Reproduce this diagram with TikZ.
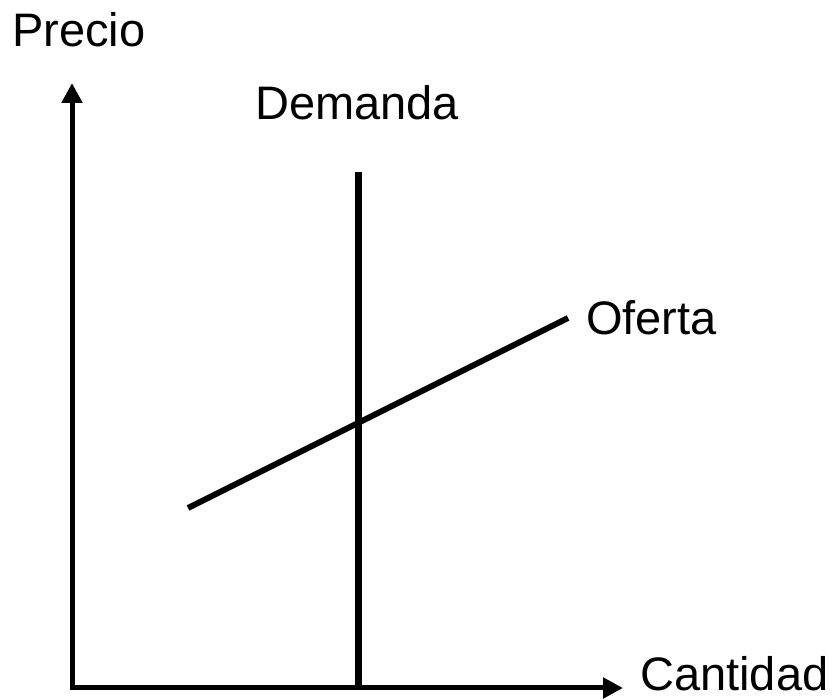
\documentclass[tikz,border=0pt]{standalone}
\usepackage{fontspec}
\setmainfont{Liberation Sans}
\usetikzlibrary{arrows.meta,calc}

\begin{document}
\begin{tikzpicture}[x=1pt, y=1pt, axis/.style={line width=5pt, -{Triangle[length=20pt, width=20pt]}}, curve/.style={line width=6pt}, label/.style={font=\fontsize{47}{50}\selectfont, inner sep=0pt}]

  \useasboundingbox (0,0) rectangle (835,700);

  % Axes
  \coordinate (O) at (72,12);
  \coordinate (Ytip) at (72,617);
  \coordinate (Xtip) at (623,12);
  \draw[axis] ($(O)+(0,-2.5)$) -- (Ytip);
  \draw[axis] ($(O)+(-2.5,0)$) -- (Xtip);

  % Labels
  \node[label, anchor=base west] (precio) at (12,653) {Precio};
  \node[label, anchor=base west] (cantidad) at (640,9) {Cantidad};
  \node[label, anchor=base] (demanda) at (357,580) {Demanda};
  \node[label, anchor=base west] (oferta) at (586,365) {Oferta};

  % Demanda
  \coordinate (D1) at (358,528);
  \coordinate (D2) at (358,12);
  \draw[curve, line width=7pt] (D1) -- (D2);

  % Oferta
  \coordinate (S1) at (188,192);
  \coordinate (S2) at (568,382);
  \draw[curve] (S1) -- (S2);

\end{tikzpicture}
\end{document}
